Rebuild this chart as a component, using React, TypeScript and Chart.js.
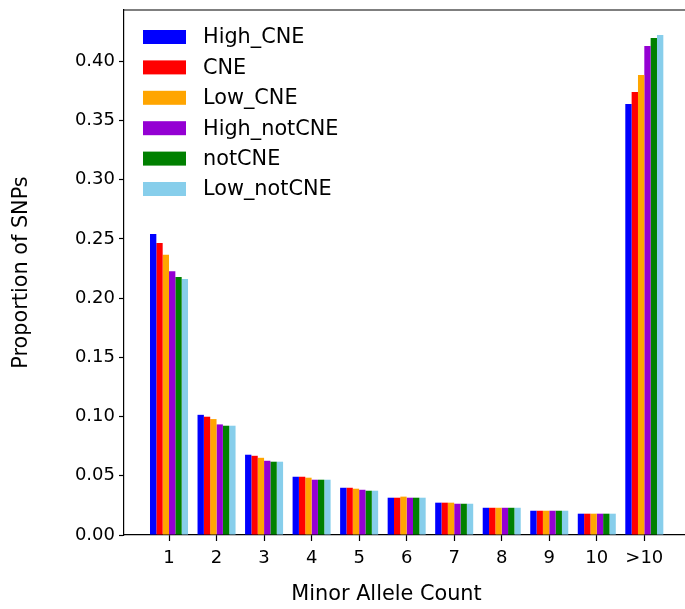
import React, { useEffect, useRef } from "react";
import { Chart, registerables } from "chart.js";

Chart.register(...registerables);

const categories = ["1", "2", "3", "4", "5", "6", "7", "8", "9", "10", ">10"];
const seriesNames = ["High_CNE", "CNE", "Low_CNE", "High_notCNE", "notCNE", "Low_notCNE"];
const seriesColors = ["#0000ff", "#ff0000", "#ffa500", "#9400d3", "#008000", "#87ceeb"];

const highCNE = [0.2543, 0.1015, 0.0678, 0.0492, 0.0399, 0.0315, 0.0273, 0.0230, 0.0205, 0.0180, 0.3640];
const cne = [0.2467, 0.0999, 0.0669, 0.0492, 0.0399, 0.0315, 0.0273, 0.0230, 0.0205, 0.0180, 0.3742];
const lowCNE = [0.2366, 0.0979, 0.0652, 0.0484, 0.0391, 0.0324, 0.0273, 0.0230, 0.0205, 0.0180, 0.3885];
const highNotCNE = [0.2228, 0.0934, 0.0627, 0.0467, 0.0382, 0.0315, 0.0264, 0.0230, 0.0205, 0.0180, 0.4130];
const notCNE = [0.2180, 0.0923, 0.0619, 0.0467, 0.0374, 0.0315, 0.0264, 0.0230, 0.0205, 0.0180, 0.4198];
const lowNotCNE = [0.2163, 0.0923, 0.0619, 0.0467, 0.0374, 0.0315, 0.0264, 0.0230, 0.0205, 0.0180, 0.4223];

const yTicks = [0, 0.05, 0.1, 0.15, 0.2, 0.25, 0.3, 0.35, 0.4];
const xTitle = "Minor Allele Count";
const yTitle = "Proportion of SNPs";

const FONT = "'DejaVu Sans', sans-serif";

export default function App() {
  const ref = useRef<HTMLCanvasElement | null>(null);

  useEffect(() => {
    const canvas = ref.current;
    if (!canvas) return;
    const allSeries = [highCNE, cne, lowCNE, highNotCNE, notCNE, lowNotCNE];

    const decor = {
      id: "decor",
      afterDatasetsDraw(chart: any) {
        const ctx = chart.ctx;
        const area = chart.chartArea;
        ctx.save();
        // top spine
        ctx.strokeStyle = "#000";
        ctx.lineWidth = 1.2;
        ctx.beginPath();
        ctx.moveTo(area.left, area.top);
        ctx.lineTo(chart.width, area.top);
        ctx.stroke();
        // legend
        ctx.font = `20.8px ${FONT}`;
        ctx.textBaseline = "middle";
        ctx.textAlign = "left";
        for (let i = 0; i < seriesNames.length; i++) {
          const cy = area.top + 27 + i * 30.4;
          ctx.fillStyle = seriesColors[i];
          ctx.fillRect(area.left + 19, cy - 7, 43, 14);
          ctx.fillStyle = "#000";
          ctx.fillText(seriesNames[i], area.left + 79, cy + 1);
        }
        // x title
        ctx.textAlign = "center";
        ctx.fillText(xTitle, 386.5, 595);
        ctx.restore();
      },
    };

    const chart = new Chart(canvas, {
      type: "bar",
      data: {
        datasets: seriesNames.map((name, i) => ({
          label: name,
          data: allSeries[i].map((v, j) => ({ x: j, y: v })),
          backgroundColor: seriesColors[i],
          borderWidth: 0,
          categoryPercentage: 0.8,
          barPercentage: 1.0,
        })),
      },
      options: {
        responsive: false,
        animation: false,
        layout: { padding: { top: 10, left: 0, right: 0, bottom: 0 } },
        plugins: { legend: { display: false }, tooltip: { enabled: false } },
        scales: {
          x: {
            type: "linear",
            min: -0.947,
            max: 10.856,
            offset: false,
            afterBuildTicks: (s: any) => {
              s.ticks = categories.map((_, i) => ({ value: i }));
            },
            afterFit: (s: any) => {
              s.height = 74;
              s.paddingLeft = 0;
              s.paddingRight = 0;
            },
            ticks: {
              callback: (v: any) => categories[Math.round(Number(v))] ?? "",
              font: { family: FONT, size: 18 },
              color: "#000",
              padding: 7,
              maxRotation: 0,
              autoSkip: false,
            },
            grid: {
              display: true,
              offset: false,
              drawOnChartArea: false,
              drawTicks: true,
              tickLength: 6,
              tickColor: "#000",
              tickWidth: 1.2,
            },
            border: { display: true, color: "#000", width: 1.2 },
          },
          y: {
            type: "linear",
            min: 0,
            max: 0.4434,
            afterBuildTicks: (s: any) => {
              s.ticks = yTicks.map((v) => ({ value: v }));
            },
            afterFit: (s: any) => {
              s.width = 124;
              s.paddingTop = 0;
              s.paddingBottom = 0;
            },
            ticks: {
              callback: (v: any) => Number(v).toFixed(2),
              font: { family: FONT, size: 18 },
              color: "#000",
              padding: 4,
            },
            grid: {
              display: true,
              drawOnChartArea: false,
              drawTicks: true,
              tickLength: 5,
              tickColor: "#000",
              tickWidth: 1.2,
            },
            border: { display: true, color: "#000", width: 1.2 },
            title: {
              display: true,
              text: yTitle,
              font: { family: FONT, size: 20.8 },
              color: "#000",
              padding: { top: 9, bottom: 0 },
            },
          },
        },
      },
      plugins: [decor],
    } as any);
    return () => chart.destroy();
  }, []);

  return (
    <div style={{ position: "fixed", left: 0, top: 0, width: 685, height: 609, background: "#fff" }}>
      <canvas ref={ref} width={685} height={609} style={{ display: "block" }} />
    </div>
  );
}
